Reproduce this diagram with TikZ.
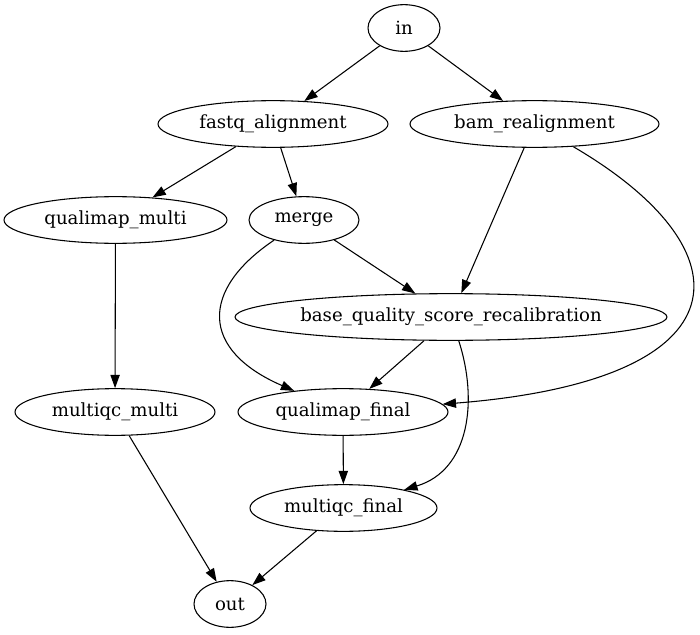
\documentclass[tikz,border=0pt]{standalone}
\usepackage{fontspec}
\setmainfont{DejaVu Serif}
\usetikzlibrary{shapes.geometric,arrows.meta}
\begin{document}
\begin{tikzpicture}[x=0.75pt,y=-0.75pt,
  nd/.style={draw,ellipse,line width=0.8pt,inner sep=0pt,minimum height=35pt,font=\fontsize{13.6}{16}\selectfont},
  ed/.style={line width=0.8pt,-{Triangle[length=10pt,width=7pt]}}]
\useasboundingbox (0,0) rectangle (700,635);
\node[nd,minimum width=54pt] (in) at (404,28) {in};
\node[nd,minimum width=172.5pt] (fa) at (273,124) {fastq\_alignment};
\node[nd,minimum width=186.75pt] (bam) at (534.5,124) {bam\_realignment};
\node[nd,minimum width=167.25pt] (qm) at (115.5,220) {qualimap\_multi};
\node[nd,minimum width=82.5pt] (mg) at (304,220) {merge};
\node[nd,minimum width=324pt,inner xsep=-8pt] (bq) at (451,317) {base\_quality\_score\_recalibration};
\node[nd,minimum width=150pt] (mm) at (115,412) {multiqc\_multi};
\node[nd,minimum width=157.5pt] (qf) at (343,412) {qualimap\_final};
\node[nd,minimum width=140.25pt] (mf) at (343.5,508) {multiqc\_final};
\node[nd,minimum width=54pt] (out) at (230,604) {out};
\draw[ed] (in) -- (fa);
\draw[ed] (in) -- (bam);
\draw[ed] (fa) -- (qm);
\draw[ed] (fa) -- (mg);
\draw[ed] (bam) -- (bq);
\draw[ed] (bam) .. controls (750,250) and (750,380) .. (qf);
\draw[ed] (mg) -- (bq);
\draw[ed] (mg) .. controls (200,290) and (200,350) .. (qf);
\draw[ed] (bq) -- (qf);
\draw[ed] (bq) .. controls (478,400) and (470,470) .. (mf);
\draw[ed] (qm) -- (mm);
\draw[ed] (qf) -- (mf);
\draw[ed] (mm) -- (out);
\draw[ed] (mf) -- (out);
\end{tikzpicture}
\end{document}
